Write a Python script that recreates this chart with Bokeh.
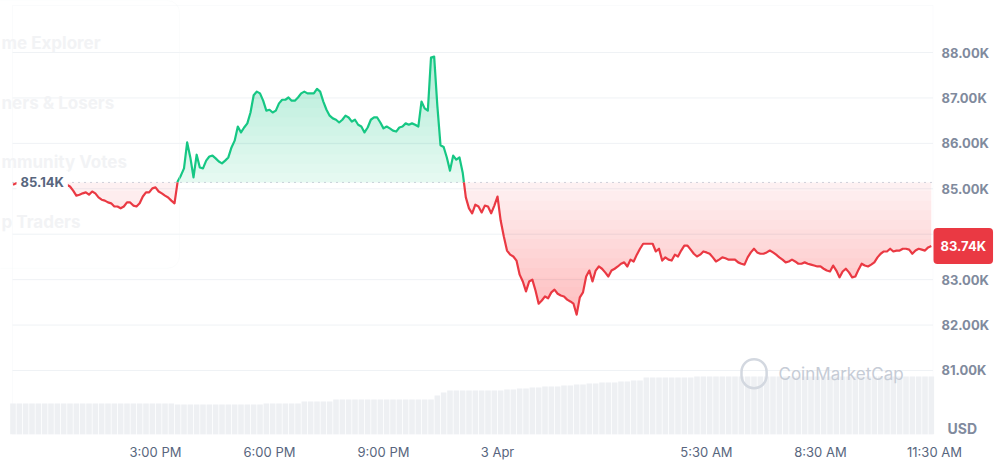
import numpy as np
import pandas as pd
from bokeh.plotting import figure
from bokeh.models import (Range1d, FixedTicker, Label, LabelSet, ColumnDataSource,
                          BoxAnnotation)
from bokeh.core.properties import value
from bokeh.embed import file_html
from bokeh.resources import INLINE

# ---------------- data ----------------
BASELINE = 85.14          # open price (K USD)
LAST_PRICE = 83.74        # last price (K USD)
PRICE_START = "2025-04-02 11:15"
PRICE_STEP_MIN = 5
prices = [
    85.09, 85.12, 85.14, 85.16, 85.16, 85.18, 85.18, 85.20, 85.20, 85.23,
    85.23, 85.25, 85.25, 85.25, 85.23, 85.20, 85.16, 85.09, 85.05, 84.96,
    84.85, 84.87, 84.90, 84.92, 84.87, 84.94, 84.90, 84.81, 84.76, 84.74,
    84.70, 84.68, 84.61, 84.61, 84.57, 84.61, 84.70, 84.70, 84.63, 84.61,
    84.68, 84.83, 84.92, 84.92, 85.01, 85.03, 84.94, 84.90, 84.85, 84.81,
    84.74, 84.68, 85.16, 85.29, 85.45, 86.02, 85.69, 85.25, 85.75, 85.47,
    85.45, 85.62, 85.71, 85.73, 85.67, 85.60, 85.56, 85.62, 85.69, 85.91,
    86.06, 86.37, 86.24, 86.35, 86.44, 86.68, 87.06, 87.14, 87.10, 86.94,
    86.72, 86.74, 86.68, 86.72, 86.88, 86.96, 86.96, 87.01, 86.94, 86.94,
    87.01, 87.10, 87.14, 87.10, 87.10, 87.10, 87.20, 87.14, 86.92, 86.74,
    86.61, 86.55, 86.52, 86.46, 86.52, 86.61, 86.57, 86.48, 86.52, 86.41,
    86.37, 86.24, 86.35, 86.52, 86.57, 86.57, 86.46, 86.33, 86.37, 86.33,
    86.28, 86.26, 86.35, 86.37, 86.44, 86.41, 86.44, 86.41, 86.37, 86.92,
    86.77, 86.72, 87.89, 87.91, 86.83, 85.96, 85.92, 85.69, 85.40, 85.73,
    85.64, 85.69, 85.36, 84.81, 84.57, 84.46, 84.65, 84.61, 84.48, 84.63,
    84.61, 84.46, 84.63, 84.83, 84.30, 83.95, 83.64, 83.55, 83.51, 83.42,
    83.11, 82.96, 82.74, 82.96, 83.00, 82.76, 82.47, 82.54, 82.63, 82.59,
    82.72, 82.78, 82.69, 82.65, 82.63, 82.56, 82.52, 82.47, 82.23, 82.61,
    82.72, 83.07, 83.20, 82.96, 83.20, 83.29, 83.24, 83.16, 83.07, 83.20,
    83.24, 83.29, 83.35, 83.38, 83.29, 83.44, 83.40, 83.55, 83.68, 83.79,
    83.79, 83.79, 83.79, 83.62, 83.68, 83.42, 83.49, 83.44, 83.42, 83.55,
    83.51, 83.64, 83.75, 83.75, 83.66, 83.57, 83.51, 83.55, 83.62, 83.60,
    83.57, 83.49, 83.40, 83.44, 83.49, 83.47, 83.44, 83.44, 83.44, 83.38,
    83.35, 83.33, 83.49, 83.60, 83.68, 83.60, 83.57, 83.57, 83.60, 83.64,
    83.60, 83.55, 83.49, 83.44, 83.38, 83.40, 83.44, 83.40, 83.35, 83.35,
    83.38, 83.35, 83.33, 83.31, 83.29, 83.29, 83.24, 83.20, 83.18, 83.31,
    83.20, 83.05, 83.18, 83.24, 83.16, 83.05, 83.07, 83.22, 83.35, 83.31,
    83.29, 83.33, 83.38, 83.49, 83.57, 83.62, 83.62, 83.68, 83.62, 83.64,
    83.64, 83.68, 83.68, 83.66, 83.57, 83.64, 83.68, 83.66, 83.64, 83.71,
    83.74,
]

VOL_START = "2025-04-02 11:15"
VOL_STEP_MIN = 10
volume = [  # 24h volume, relative units
    31, 31, 31, 31, 31, 31, 31, 31, 31, 31, 31, 31, 31, 31, 31, 31, 31, 31, 31, 31,
    31, 31, 31, 31, 31, 31, 30, 30, 30, 30, 30, 30, 30, 30, 30, 30, 30, 30, 30, 30,
    31, 31, 31, 31, 31, 31, 33, 33, 33, 33, 33, 35, 35, 35, 35, 35, 35, 35, 35, 35,
    35, 35, 35, 35, 35, 35, 35, 39, 42, 44, 44, 44, 44, 44, 44, 44, 44, 44, 45, 45,
    46, 46, 47, 47, 48, 48, 48, 49, 49, 50, 50, 51, 51, 52, 52, 52, 53, 53, 54, 54,
    57, 57, 57, 57, 57, 57, 57, 57, 58, 58, 58, 58, 58, 58, 58, 58, 58, 58, 58, 58,
    58, 58, 58, 58, 58, 58, 58, 58, 58, 58, 58, 58, 58, 58, 58, 58, 58, 58, 58, 58,
    58, 58, 58, 58, 58, 58,
]

x_tick_times = ["2025-04-02 15:00", "2025-04-02 18:00", "2025-04-02 21:00",
                "2025-04-03 00:00", "2025-04-03 05:30", "2025-04-03 08:30",
                "2025-04-03 11:30"]
x_tick_labels = ["3:00 PM", "6:00 PM", "9:00 PM", "3 Apr", "5:30 AM", "8:30 AM", "11:30 AM"]
y_ticks = [81, 82, 83, 84, 85, 86, 87, 88]
menu_items = ["me Explorer", "ners & Losers", "mmunity Votes", "p Traders"]
menu_levels = [88.20, 86.88, 85.58, 84.26]

# ---------------- layout constants ----------------
VIEW_START = "2025-04-02 10:55:16"     # canvas left edge
VIEW_END = "2025-04-03 13:25:16"       # canvas right edge
PLOT_START = "2025-04-02 11:14:13"     # chart box left
PLOT_END = "2025-04-03 11:27:39"       # chart box right
Y_MIN, Y_MAX = 79.591, 89.145
BOX_TOP = 89.035
MENU_BOTTOM = 83.25

GREEN = "#16c784"
RED = "#ea3943"
FONT = "Inter"
GRID = "#eff2f5"


def ms(s):
    return float(pd.Timestamp(s).value // 10**6)


n = len(prices)
t = ms(PRICE_START) + np.arange(n) * PRICE_STEP_MIN * 60000.0
pr = np.array(prices, dtype=float)

# insert exact open-price crossings so colours split at the baseline
ax, ay = [t[0]], [pr[0]]
for i in range(1, n):
    a, b = pr[i - 1] - BASELINE, pr[i] - BASELINE
    if a * b < 0:
        f = a / (a - b)
        ax.append(t[i - 1] + f * (t[i] - t[i - 1]))
        ay.append(BASELINE)
    ax.append(t[i])
    ay.append(pr[i])
ax = np.array(ax)
ay = np.array(ay)

p = figure(frame_width=1007, frame_height=434,
           min_border_left=0, min_border_right=0, min_border_top=0, min_border_bottom=26,
           x_range=Range1d(ms(VIEW_START), ms(VIEW_END)), y_range=Range1d(Y_MIN, Y_MAX),
           y_axis_location=None, output_backend="svg", toolbar_location=None,
           background_fill_color="white", border_fill_color="white",
           outline_line_color=None)
p.xgrid.visible = False
p.ygrid.visible = False

# volume
p.extra_y_ranges = {"vol": Range1d(0, 434)}
vt = ms(VOL_START) + np.arange(len(volume)) * VOL_STEP_MIN * 60000.0
p.vbar(x=vt, top=volume, width=VOL_STEP_MIN * 60000.0 * 0.88, y_range_name="vol",
       fill_color="#eef0f3", line_color=None)

# horizontal grid inside the chart box
p.segment(x0=ms(PLOT_START), x1=ms(PLOT_END), y0=y_ticks, y1=y_ticks,
          line_color=GRID, line_width=1)

# gradient-like fills (stacked translucent layers)
p.varea(x=ax, y1=BASELINE, y2=np.maximum(ay, BASELINE), fill_color=GREEN, fill_alpha=0.11)
for L in np.linspace(85.35, 88.0, 14):
    p.varea(x=ax, y1=L, y2=np.maximum(ay, L), fill_color=GREEN, fill_alpha=0.016)
p.varea(x=ax, y1=np.minimum(ay, BASELINE), y2=BASELINE, fill_color=RED, fill_alpha=0.07)
for L in np.linspace(84.95, 82.2, 14):
    p.varea(x=ax, y1=np.minimum(ay, L), y2=L, fill_color=RED, fill_alpha=0.018)

# dotted open-price line
p.segment(x0=ms(PLOT_START), x1=ms(PLOT_END), y0=BASELINE, y1=BASELINE,
          line_color="#a1a7bb", line_width=1, line_dash="1 5")

# price line, coloured by side of the open price
gy = np.where(ay >= BASELINE, ay, np.nan)
ry = np.where(ay <= BASELINE, ay, np.nan)
p.line(ax, gy, line_color=GREEN, line_width=2.2, line_join="round")
p.line(ax, ry, line_color=RED, line_width=2.2, line_join="round")

# chart box border
p.add_layout(BoxAnnotation(left=ms(PLOT_START), right=ms(PLOT_END), top=BOX_TOP,
                           fill_alpha=0, line_color=GRID, line_width=1))

# faint edge of the overlaid menu panel
p.add_layout(BoxAnnotation(left=-30, right=179, left_units="screen", right_units="screen",
                           bottom=MENU_BOTTOM, fill_alpha=0, line_color="#f3f4f6",
                           line_width=1, border_radius=12))

# x axis
xa = p.xaxis[0]
tick_ms = [ms(s) for s in x_tick_times]
xa.ticker = FixedTicker(ticks=tick_ms)
xa.major_label_overrides = {k: v for k, v in zip(tick_ms, x_tick_labels)}
xa.axis_line_color = None
xa.major_tick_line_color = None
xa.minor_tick_line_color = None
xa.major_label_standoff = 3
xa.major_label_text_font = FONT
xa.major_label_text_font_size = "13px"
xa.major_label_text_color = "#58667e"

# y tick labels on the right
ysrc = ColumnDataSource(dict(y=y_ticks, text=[f"{v:.2f}K" for v in y_ticks]))
p.add_layout(LabelSet(x=941, y="y", text="text", x_units="screen", source=ysrc,
                      text_font=value(FONT), text_font_size=value("13px"),
                      text_font_style=value("bold"), text_color=value("#808a9d"),
                      text_baseline=value("middle")))

# faint menu overlay text
for txt, lvl in zip(menu_items, menu_levels):
    p.add_layout(Label(x=1, y=lvl, x_units="screen", text=txt, text_font=FONT,
                       text_font_size="17px", text_font_style="bold", text_color="#f2f3f5",
                       text_baseline="middle"))

# open label
p.add_layout(Label(x=16, y=BASELINE, x_units="screen", text=f"{BASELINE:.2f}K",
                   text_font=FONT, text_font_size="13px", text_font_style="bold",
                   text_color="#58667e", text_baseline="middle",
                   background_fill_color="white", padding=4))

# last price tag
p.add_layout(Label(x=933, y=LAST_PRICE, x_units="screen", text=f"{LAST_PRICE:.2f}K",
                   text_font=FONT, text_font_size="13px", text_font_style="bold",
                   text_color="white", text_baseline="middle",
                   background_fill_color=RED,
                   padding=dict(left=7, right=7, top=10, bottom=10), border_radius=4))

# currency
p.add_layout(Label(x=947, y=79.72, x_units="screen", text="USD", text_font=FONT,
                   text_font_size="14px", text_font_style="bold", text_color="#808a9d",
                   text_baseline="middle"))

# watermark (logo ring + wordmark)
p.add_layout(Label(x=741, y=80.93, x_units="screen", text=" ", text_font=FONT,
                   text_font_size="4px", padding=12,
                   border_radius=14, border_line_color="#d3d8e0", border_line_width=2.5,
                   text_baseline="middle"))
p.add_layout(Label(x=778, y=80.93, x_units="screen", text="CoinMarketCap", text_font=FONT,
                   text_font_size="17px", text_color="#c6ccd6",
                   text_baseline="middle"))

open("out.html", "w").write(file_html(p, INLINE))
